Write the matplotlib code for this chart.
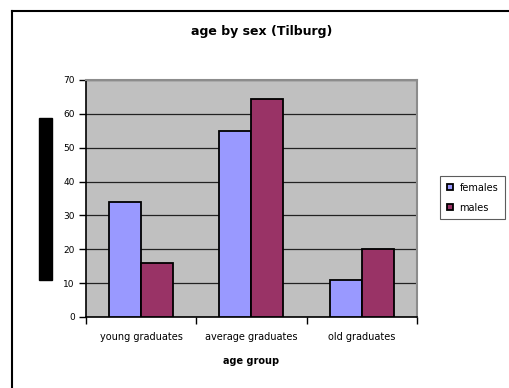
import matplotlib
matplotlib.use("Agg")
import matplotlib.pyplot as plt
from matplotlib.patches import Rectangle
from matplotlib.lines import Line2D
import numpy as np

plt.rcParams['font.family'] = ['DejaVu Sans']

groups = ['young graduates', 'average graduates', 'old graduates']
females = [34, 55, 11]
males = [16, 64.5, 20]
yticks = [0, 10, 20, 30, 40, 50, 60, 70]

fig = plt.figure(figsize=(5.09, 3.88), dpi=100)
ax = fig.add_axes([0.169, 0.183, 0.650, 0.611])
ax.set_facecolor('#c0c0c0')

x = np.arange(len(groups))
w = 0.29
ax.bar(x - w / 2, females, w, color='#9999ff', edgecolor='black', linewidth=1.3,
       label='females', zorder=3)
ax.bar(x + w / 2, males, w, color='#993366', edgecolor='black', linewidth=1.3,
       label='males', zorder=3)

ax.set_xlim(-0.5, 2.5)
ax.set_ylim(0, 70)
ax.set_yticks(yticks)
ax.yaxis.grid(True, color='#222222', linewidth=0.9, zorder=1)
ax.set_axisbelow(True)

# category boundary ticks on x axis
ax.set_xticks([-0.5, 0.5, 1.5, 2.5])
ax.set_xticklabels([])
ax.set_xticks(x, minor=True)
ax.set_xticklabels(groups, minor=True, fontsize=7)
ax.tick_params(axis='x', which='minor', length=0, pad=11)
ax.tick_params(axis='x', which='major', length=5, width=1, direction='out')
ax.tick_params(axis='y', length=5, width=1, direction='out', labelsize=6.5, pad=3)

for s in ['top', 'right']:
    ax.spines[s].set_color('#8c8c8c')
    ax.spines[s].set_linewidth(1.5)
for s in ['left', 'bottom']:
    ax.spines[s].set_color('black')
    ax.spines[s].set_linewidth(1.2)

ax.set_xlabel('age group', fontsize=7, fontweight='bold', labelpad=10)

fig.text(0.515, 0.918, 'age by sex (Tilburg)', fontsize=9, fontweight='bold',
         ha='center', va='center')

# black box where the y label would be
fig.patches.append(Rectangle((39 / 509, 1 - 280 / 388), 13 / 509, 162 / 388,
                             transform=fig.transFigure, color='black'))

# chart frame (left and top edges)
fig.lines.append(Line2D([12 / 509, 12 / 509], [0, 1 - 11 / 388],
                        transform=fig.transFigure, color='black', linewidth=1.5))
fig.lines.append(Line2D([12 / 509, 1], [1 - 11 / 388, 1 - 11 / 388],
                        transform=fig.transFigure, color='black', linewidth=1.5))

leg = fig.legend(loc='upper left', bbox_to_anchor=(440 / 509, 1 - 176 / 388),
                 fontsize=7, frameon=True, fancybox=False, handlelength=0.6,
                 handleheight=0.6, handletextpad=0.7, borderpad=0.7,
                 labelspacing=1.0, borderaxespad=0)
leg.get_frame().set_edgecolor('#333333')
leg.get_frame().set_linewidth(0.8)

fig.savefig('out.png', dpi=100)
